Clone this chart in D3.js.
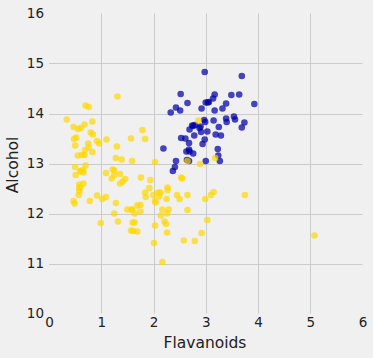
<!DOCTYPE html>
<html><head><meta charset="utf-8">
<script src="https://cdn.jsdelivr.net/npm/d3@7"></script>
<style>html,body{margin:0;padding:0;background:#f0f0f0;}svg{display:block;font-family:"DejaVu Sans",sans-serif;}</style>
</head><body>
<script>
// Class 1 (blue)
const blueFlavanoids = [3.06,2.76,3.24,3.49,2.69,3.39,2.52,2.51,2.98,3.15,3.32,2.43,2.76,3.69,3.64,2.91,3.14,3.4,3.93,3.03,3.17,2.41,2.88,2.37,2.61,2.68,2.94,2.19,2.97,2.33,3.25,3.19,2.69,2.74,2.53,2.98,2.68,2.43,2.64,3.04,3.29,2.68,3.56,2.63,3.0,2.65,3.17,3.39,2.92,3.54,3.27,2.99,3.74,2.79,2.9,2.78,3.0,3.23,3.69];
const blueAlcohol = [14.23,13.2,13.16,14.37,13.24,14.2,14.39,14.06,14.83,13.86,14.1,14.12,13.75,14.75,14.38,13.63,14.3,13.83,14.19,13.64,14.06,12.93,13.71,12.85,13.5,13.05,13.39,13.3,13.87,14.02,13.73,13.58,13.68,13.76,13.51,13.48,13.28,13.05,13.07,14.22,13.56,13.41,13.88,13.24,13.05,14.21,14.38,13.9,14.1,13.94,13.05,13.83,13.82,13.77,13.74,13.56,14.22,13.29,13.72];
// Classes 2 and 3 (yellow)
const yellowFlavanoids = [0.57,1.09,1.41,1.79,3.1,1.75,2.65,3.18,2.0,1.3,1.28,1.02,2.86,1.84,2.89,2.14,1.57,2.03,1.32,1.85,2.55,2.26,2.53,1.58,1.59,2.21,1.94,1.69,1.61,1.69,1.59,1.5,1.25,1.46,2.25,2.26,2.27,0.99,2.5,3.75,2.99,2.17,1.36,2.11,1.64,1.92,1.84,2.03,1.76,2.04,2.92,2.58,2.27,2.03,2.01,2.29,2.17,1.6,2.09,1.25,1.64,2.79,5.08,2.13,2.65,3.03,2.65,3.15,2.24,2.45,1.75,
1.25,1.22,1.09,1.2,0.58,0.66,0.47,0.6,0.48,0.6,0.5,0.5,0.52,0.8,0.78,0.55,0.34,0.65,0.76,1.39,1.57,1.36,1.28,0.83,0.58,0.63,0.83,0.58,1.31,1.1,0.92,0.56,0.6,0.7,0.68,0.47,0.92,0.66,0.84,0.96,0.49,0.51,0.7,0.61,0.75,0.69,0.68,0.76];
const yellowAlcohol = [12.37,12.33,12.64,13.67,12.37,12.17,12.37,13.11,12.37,13.34,12.21,12.29,13.86,13.49,12.99,11.96,11.66,13.03,11.84,12.33,12.7,12.0,12.72,12.08,13.05,11.84,12.67,12.16,11.65,11.64,12.08,12.08,12.0,12.69,12.29,11.62,12.47,11.81,12.29,12.37,12.29,12.08,12.6,12.34,11.82,12.51,12.42,12.25,12.72,12.22,11.61,11.46,12.52,11.76,11.41,12.08,11.03,11.82,12.42,12.77,12.0,11.45,11.56,12.42,13.05,11.87,12.07,12.43,11.79,12.37,12.04,
12.86,12.88,12.81,12.7,12.51,12.6,12.25,12.53,13.49,12.84,12.93,13.36,13.52,13.62,12.25,13.16,13.88,12.87,13.32,13.08,13.5,12.79,13.11,13.23,12.58,13.17,13.84,12.45,14.34,13.48,12.36,13.69,12.85,12.96,13.78,13.73,13.45,12.82,13.58,13.4,12.2,12.77,14.16,13.71,13.4,13.27,13.17,14.13];
const xTicks = [0,1,2,3,4,5,6];
const yTicks = [10,11,12,13,14,15,16];

const W = 373, H = 358;
const svg = d3.select("body").append("svg").attr("width", W).attr("height", H);
svg.append("rect").attr("width", W).attr("height", H).attr("fill", "#f0f0f0");

const x = d3.scaleLinear().domain([0, 6]).range([49, 362.5]);
const y = d3.scaleLinear().domain([10, 16]).range([313.5, 13.5]);

// grid (interior lines only)
svg.append("g").selectAll("line").data(xTicks.filter(t => t > 0 && t < 6)).join("line")
  .attr("x1", d => Math.round(x(d)) + 0.5).attr("x2", d => Math.round(x(d)) + 0.5)
  .attr("y1", y(16)).attr("y2", y(10))
  .attr("stroke", "#cbcbcb").attr("stroke-width", 1);
svg.append("g").selectAll("line").data(yTicks.filter(t => t > 10 && t < 16)).join("line")
  .attr("y1", d => Math.round(y(d)) + 0.5).attr("y2", d => Math.round(y(d)) + 0.5)
  .attr("x1", x(0)).attr("x2", x(6))
  .attr("stroke", "#cbcbcb").attr("stroke-width", 1);

// axes via d3 axis, with lines hidden
const xAxis = svg.append("g").attr("transform", `translate(0,${y(10)})`)
  .call(d3.axisBottom(x).tickValues(xTicks).tickFormat(d3.format("d")).tickSize(0).tickPadding(4));
const yAxis = svg.append("g").attr("transform", `translate(${x(0)},0)`)
  .call(d3.axisLeft(y).tickValues(yTicks).tickFormat(d3.format("d")).tickSize(0).tickPadding(5));
[xAxis, yAxis].forEach(a => {
  a.select(".domain").remove();
  a.selectAll("text").attr("font-family", "DejaVu Sans").attr("font-size", "13.5px").attr("fill", "#222");
});

// points
const blue = blueFlavanoids.map((f, i) => ({f, a: blueAlcohol[i]}));
const yellow = yellowFlavanoids.map((f, i) => ({f, a: yellowAlcohol[i]}));
svg.append("g").selectAll("circle").data(blue).join("circle")
  .attr("cx", d => x(d.f)).attr("cy", d => y(d.a)).attr("r", 3.3)
  .attr("fill", "#0000a8").attr("fill-opacity", 0.72);
svg.append("g").selectAll("circle").data(yellow).join("circle")
  .attr("cx", d => x(d.f)).attr("cy", d => y(d.a)).attr("r", 3.3)
  .attr("fill", "#ffd700").attr("fill-opacity", 0.7);

// labels
svg.append("text").attr("x", 205).attr("y", 348).attr("text-anchor", "middle")
  .attr("font-size", "15.5px").attr("fill", "#222").text("Flavanoids");
svg.append("text").attr("transform", "translate(18,165) rotate(-90)").attr("text-anchor", "middle")
  .attr("font-size", "15.5px").attr("fill", "#222").text("Alcohol");
</script>
</body></html>
